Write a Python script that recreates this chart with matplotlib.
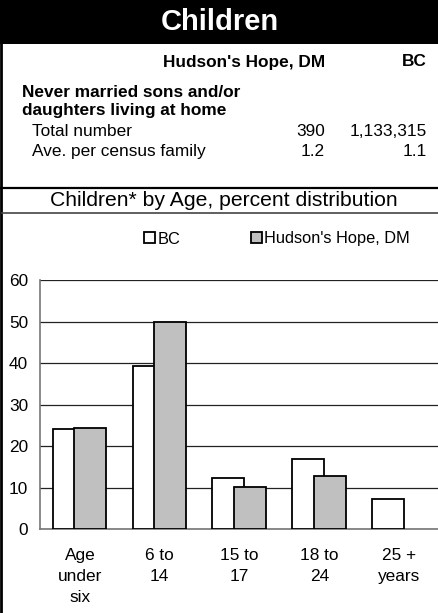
import matplotlib
matplotlib.use("Agg")
import matplotlib.pyplot as plt
from matplotlib.patches import Rectangle
from matplotlib.lines import Line2D
import numpy as np

plt.rcParams['font.family'] = ['Liberation Sans', 'DejaVu Sans']

categories = ["Age\nunder\nsix", "6 to\n14", "15 to\n17", "18 to\n24", "25 +\nyears"]
bc_values = [24.2, 39.2, 12.4, 16.8, 7.4]
hh_values = [24.4, 50.0, 10.2, 12.8, 0.0]
series_names = ["BC", "Hudson's Hope, DM"]
yticks = [0, 10, 20, 30, 40, 50, 60]

header_title = "Children"
col_headers = ["Hudson's Hope, DM", "BC"]
row_heading = "Never married sons and/or\ndaughters living at home"
row_labels = ["Total number", "Ave. per census family"]
hh_table = ["390", "1.2"]
bc_table = ["1,133,315", "1.1"]
chart_title = "Children* by Age, percent distribution"

W, H = 439, 613
FS = 12.4
fig = plt.figure(figsize=(W / 100, H / 100), dpi=100)

def fy(y):
    return 1 - y / H

def fx(x):
    return x / W

# header band
fig.patches.append(Rectangle((0, fy(44)), 1, 44 / H, transform=fig.transFigure,
                             facecolor='black', edgecolor='none', zorder=0))
fig.text(0.5, fy(22), header_title, color='white', fontsize=21, fontweight='bold',
         ha='center', va='center')

# left border
fig.lines.append(Line2D([fx(1), fx(1)], [0, 1], transform=fig.transFigure,
                        color='black', lw=2))

# table
fig.text(fx(325), fy(62), col_headers[0], fontsize=FS, fontweight='bold', ha='right', va='center')
fig.text(fx(427), fy(62), col_headers[1], fontsize=FS, fontweight='bold', ha='right', va='center')
fig.text(fx(22), fy(101.5), row_heading, fontsize=FS, fontweight='bold', ha='left', va='center',
         linespacing=1.25)
for i, (lab, hv, bv) in enumerate(zip(row_labels, hh_table, bc_table)):
    y = 131 + i * 21
    fig.text(fx(32), fy(y), lab, fontsize=FS, ha='left', va='center')
    fig.text(fx(325), fy(y), hv, fontsize=FS, ha='right', va='center')
    fig.text(fx(427), fy(y), bv, fontsize=FS, ha='right', va='center')

# separator lines
fig.lines.append(Line2D([0, 1], [fy(188), fy(188)], transform=fig.transFigure,
                        color='black', lw=1.6))
fig.lines.append(Line2D([fx(2), 1], [fy(213), fy(213)], transform=fig.transFigure,
                        color='#444444', lw=1.2))
fig.text(fx(224), fy(201), chart_title, fontsize=15.2, ha='center', va='center')

# chart
ax = fig.add_axes([fx(40), fy(529.3), 1 - fx(40), (529.3 - 280) / H])
x = np.arange(len(categories))
w = 0.4
b1 = ax.bar(x - 0.14, bc_values, width=w, facecolor='white', edgecolor='black',
            linewidth=1.3, zorder=3, label=series_names[0])
b2 = ax.bar(x + 0.13, hh_values, width=w, facecolor='#c0c0c0', edgecolor='black',
            linewidth=1.3, zorder=4, label=series_names[1])
for rect, v in zip(b2, hh_values):
    if v == 0:
        rect.set_visible(False)

ax.set_xlim(-0.5, len(categories) - 0.5)
ax.set_ylim(0, 60)
ax.set_yticks(yticks)
ax.set_yticklabels([str(t) for t in yticks], fontsize=FS)
ax.set_xticks(x)
ax.set_xticklabels(categories, fontsize=FS, linespacing=1.5)
ax.tick_params(axis='both', length=0)
ax.tick_params(axis='y', pad=8.5)
ax.tick_params(axis='x', pad=13.5)
ax.grid(axis='y', color='#222222', linewidth=0.9, zorder=0)
ax.set_axisbelow(True)
for s in ['top', 'right']:
    ax.spines[s].set_visible(False)
ax.spines['left'].set_color('#777777')
ax.spines['bottom'].set_color('#777777')
ax.spines['left'].set_linewidth(1.2)
ax.spines['bottom'].set_linewidth(1.2)

leg = fig.legend(handles=[b1, b2], labels=series_names, ncol=2, frameon=False,
                 loc='center left', bbox_to_anchor=(fx(137), fy(239)),
                 fontsize=11.8, handlelength=0.68, handleheight=0.68,
                 handletextpad=0.15, columnspacing=4.3, borderaxespad=0)

fig.savefig("out.png", dpi=100)
